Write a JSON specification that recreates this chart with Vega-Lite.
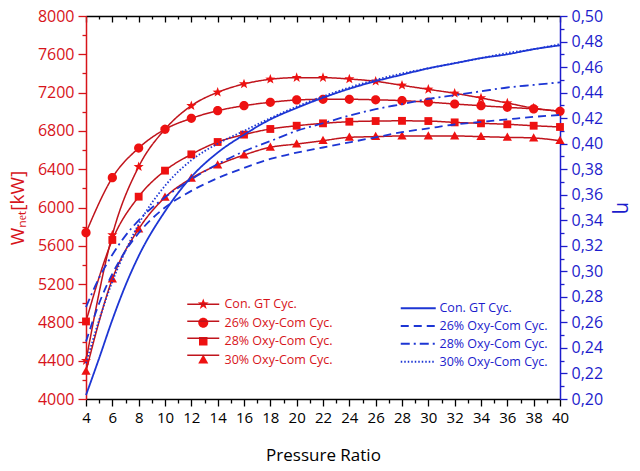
{
  "$schema": "https://vega.github.io/schema/vega-lite/v6.json",
  "width": 474,
  "height": 383,
  "autosize": "none",
  "padding": {"left": 86, "top": 16, "right": 80, "bottom": 72},
  "background": "white",
  "config": {
    "font": "Open Sans",
    "view": {"stroke": null},
    "axis": {"grid": false, "labelFont": "Open Sans", "titleFont": "Open Sans", "labelFontSize": 16, "titleFontWeight": "normal", "labelOverlap": false, "labelFlush": false, "domainWidth": 1.5, "tickWidth": 1.3},
    "legend": {"labelFont": "Open Sans", "labelFontSize": 12.5, "padding": 0, "title": null}
  },
  "datasets": {
    "red": [
      {"pr": 4, "w": 4400, "cycle": "Con. GT Cyc."}, {"pr": 6, "w": 5713, "cycle": "Con. GT Cyc."}, {"pr": 8, "w": 6426, "cycle": "Con. GT Cyc."}, {"pr": 10, "w": 6817, "cycle": "Con. GT Cyc."}, {"pr": 12, "w": 7063, "cycle": "Con. GT Cyc."}, {"pr": 14, "w": 7203, "cycle": "Con. GT Cyc."}, {"pr": 16, "w": 7290, "cycle": "Con. GT Cyc."}, {"pr": 18, "w": 7339, "cycle": "Con. GT Cyc."}, {"pr": 20, "w": 7356, "cycle": "Con. GT Cyc."}, {"pr": 22, "w": 7356, "cycle": "Con. GT Cyc."}, {"pr": 24, "w": 7342, "cycle": "Con. GT Cyc."}, {"pr": 26, "w": 7318, "cycle": "Con. GT Cyc."}, {"pr": 28, "w": 7276, "cycle": "Con. GT Cyc."}, {"pr": 30, "w": 7234, "cycle": "Con. GT Cyc."}, {"pr": 32, "w": 7193, "cycle": "Con. GT Cyc."}, {"pr": 34, "w": 7144, "cycle": "Con. GT Cyc."}, {"pr": 36, "w": 7091, "cycle": "Con. GT Cyc."}, {"pr": 38, "w": 7038, "cycle": "Con. GT Cyc."}, {"pr": 40, "w": 7005, "cycle": "Con. GT Cyc."},
      {"pr": 4, "w": 5737, "cycle": "26% Oxy-Com Cyc."}, {"pr": 6, "w": 6311, "cycle": "26% Oxy-Com Cyc."}, {"pr": 8, "w": 6621, "cycle": "26% Oxy-Com Cyc."}, {"pr": 10, "w": 6817, "cycle": "26% Oxy-Com Cyc."}, {"pr": 12, "w": 6931, "cycle": "26% Oxy-Com Cyc."}, {"pr": 14, "w": 7011, "cycle": "26% Oxy-Com Cyc."}, {"pr": 16, "w": 7063, "cycle": "26% Oxy-Com Cyc."}, {"pr": 18, "w": 7099, "cycle": "26% Oxy-Com Cyc."}, {"pr": 20, "w": 7123, "cycle": "26% Oxy-Com Cyc."}, {"pr": 22, "w": 7130, "cycle": "26% Oxy-Com Cyc."}, {"pr": 24, "w": 7130, "cycle": "26% Oxy-Com Cyc."}, {"pr": 26, "w": 7125, "cycle": "26% Oxy-Com Cyc."}, {"pr": 28, "w": 7116, "cycle": "26% Oxy-Com Cyc."}, {"pr": 30, "w": 7100, "cycle": "26% Oxy-Com Cyc."}, {"pr": 32, "w": 7081, "cycle": "26% Oxy-Com Cyc."}, {"pr": 34, "w": 7063, "cycle": "26% Oxy-Com Cyc."}, {"pr": 36, "w": 7046, "cycle": "26% Oxy-Com Cyc."}, {"pr": 38, "w": 7030, "cycle": "26% Oxy-Com Cyc."}, {"pr": 40, "w": 7005, "cycle": "26% Oxy-Com Cyc."},
      {"pr": 4, "w": 4810, "cycle": "28% Oxy-Com Cyc."}, {"pr": 6, "w": 5661, "cycle": "28% Oxy-Com Cyc."}, {"pr": 8, "w": 6113, "cycle": "28% Oxy-Com Cyc."}, {"pr": 10, "w": 6385, "cycle": "28% Oxy-Com Cyc."}, {"pr": 12, "w": 6555, "cycle": "28% Oxy-Com Cyc."}, {"pr": 14, "w": 6684, "cycle": "28% Oxy-Com Cyc."}, {"pr": 16, "w": 6761, "cycle": "28% Oxy-Com Cyc."}, {"pr": 18, "w": 6820, "cycle": "28% Oxy-Com Cyc."}, {"pr": 20, "w": 6854, "cycle": "28% Oxy-Com Cyc."}, {"pr": 22, "w": 6879, "cycle": "28% Oxy-Com Cyc."}, {"pr": 24, "w": 6896, "cycle": "28% Oxy-Com Cyc."}, {"pr": 26, "w": 6903, "cycle": "28% Oxy-Com Cyc."}, {"pr": 28, "w": 6905, "cycle": "28% Oxy-Com Cyc."}, {"pr": 30, "w": 6903, "cycle": "28% Oxy-Com Cyc."}, {"pr": 32, "w": 6889, "cycle": "28% Oxy-Com Cyc."}, {"pr": 34, "w": 6879, "cycle": "28% Oxy-Com Cyc."}, {"pr": 36, "w": 6869, "cycle": "28% Oxy-Com Cyc."}, {"pr": 38, "w": 6854, "cycle": "28% Oxy-Com Cyc."}, {"pr": 40, "w": 6841, "cycle": "28% Oxy-Com Cyc."},
      {"pr": 4, "w": 4290, "cycle": "30% Oxy-Com Cyc."}, {"pr": 6, "w": 5253, "cycle": "30% Oxy-Com Cyc."}, {"pr": 8, "w": 5775, "cycle": "30% Oxy-Com Cyc."}, {"pr": 10, "w": 6106, "cycle": "30% Oxy-Com Cyc."}, {"pr": 12, "w": 6305, "cycle": "30% Oxy-Com Cyc."}, {"pr": 14, "w": 6444, "cycle": "30% Oxy-Com Cyc."}, {"pr": 16, "w": 6548, "cycle": "30% Oxy-Com Cyc."}, {"pr": 18, "w": 6629, "cycle": "30% Oxy-Com Cyc."}, {"pr": 20, "w": 6663, "cycle": "30% Oxy-Com Cyc."}, {"pr": 22, "w": 6698, "cycle": "30% Oxy-Com Cyc."}, {"pr": 24, "w": 6733, "cycle": "30% Oxy-Com Cyc."}, {"pr": 26, "w": 6740, "cycle": "30% Oxy-Com Cyc."}, {"pr": 28, "w": 6747, "cycle": "30% Oxy-Com Cyc."}, {"pr": 30, "w": 6747, "cycle": "30% Oxy-Com Cyc."}, {"pr": 32, "w": 6747, "cycle": "30% Oxy-Com Cyc."}, {"pr": 34, "w": 6740, "cycle": "30% Oxy-Com Cyc."}, {"pr": 36, "w": 6733, "cycle": "30% Oxy-Com Cyc."}, {"pr": 38, "w": 6726, "cycle": "30% Oxy-Com Cyc."}, {"pr": 40, "w": 6698, "cycle": "30% Oxy-Com Cyc."}
    ],
    "blue": [
      {"pr": 4, "eta": 0.203, "series": "Con. GT Cyc."}, {"pr": 5, "eta": 0.232, "series": "Con. GT Cyc."}, {"pr": 6, "eta": 0.262, "series": "Con. GT Cyc."}, {"pr": 7, "eta": 0.289, "series": "Con. GT Cyc."}, {"pr": 8, "eta": 0.312, "series": "Con. GT Cyc."}, {"pr": 10, "eta": 0.347, "series": "Con. GT Cyc."}, {"pr": 12, "eta": 0.374, "series": "Con. GT Cyc."}, {"pr": 14, "eta": 0.393, "series": "Con. GT Cyc."}, {"pr": 16, "eta": 0.407, "series": "Con. GT Cyc."}, {"pr": 18, "eta": 0.419, "series": "Con. GT Cyc."}, {"pr": 20, "eta": 0.428, "series": "Con. GT Cyc."}, {"pr": 22, "eta": 0.436, "series": "Con. GT Cyc."}, {"pr": 24, "eta": 0.443, "series": "Con. GT Cyc."}, {"pr": 26, "eta": 0.449, "series": "Con. GT Cyc."}, {"pr": 28, "eta": 0.454, "series": "Con. GT Cyc."}, {"pr": 30, "eta": 0.459, "series": "Con. GT Cyc."}, {"pr": 32, "eta": 0.463, "series": "Con. GT Cyc."}, {"pr": 34, "eta": 0.467, "series": "Con. GT Cyc."}, {"pr": 36, "eta": 0.470, "series": "Con. GT Cyc."}, {"pr": 38, "eta": 0.474, "series": "Con. GT Cyc."}, {"pr": 40, "eta": 0.477, "series": "Con. GT Cyc."},
      {"pr": 4, "eta": 0.245, "series": "26% Oxy-Com Cyc."}, {"pr": 5, "eta": 0.275, "series": "26% Oxy-Com Cyc."}, {"pr": 6, "eta": 0.298, "series": "26% Oxy-Com Cyc."}, {"pr": 7, "eta": 0.316, "series": "26% Oxy-Com Cyc."}, {"pr": 8, "eta": 0.330, "series": "26% Oxy-Com Cyc."}, {"pr": 10, "eta": 0.350, "series": "26% Oxy-Com Cyc."}, {"pr": 12, "eta": 0.363, "series": "26% Oxy-Com Cyc."}, {"pr": 14, "eta": 0.373, "series": "26% Oxy-Com Cyc."}, {"pr": 16, "eta": 0.381, "series": "26% Oxy-Com Cyc."}, {"pr": 18, "eta": 0.388, "series": "26% Oxy-Com Cyc."}, {"pr": 20, "eta": 0.393, "series": "26% Oxy-Com Cyc."}, {"pr": 22, "eta": 0.397, "series": "26% Oxy-Com Cyc."}, {"pr": 24, "eta": 0.401, "series": "26% Oxy-Com Cyc."}, {"pr": 26, "eta": 0.405, "series": "26% Oxy-Com Cyc."}, {"pr": 28, "eta": 0.409, "series": "26% Oxy-Com Cyc."}, {"pr": 30, "eta": 0.412, "series": "26% Oxy-Com Cyc."}, {"pr": 32, "eta": 0.415, "series": "26% Oxy-Com Cyc."}, {"pr": 34, "eta": 0.417, "series": "26% Oxy-Com Cyc."}, {"pr": 36, "eta": 0.419, "series": "26% Oxy-Com Cyc."}, {"pr": 38, "eta": 0.421, "series": "26% Oxy-Com Cyc."}, {"pr": 40, "eta": 0.4225, "series": "26% Oxy-Com Cyc."},
      {"pr": 4, "eta": 0.272, "series": "28% Oxy-Com Cyc."}, {"pr": 5, "eta": 0.295, "series": "28% Oxy-Com Cyc."}, {"pr": 6, "eta": 0.313, "series": "28% Oxy-Com Cyc."}, {"pr": 7, "eta": 0.328, "series": "28% Oxy-Com Cyc."}, {"pr": 8, "eta": 0.340, "series": "28% Oxy-Com Cyc."}, {"pr": 10, "eta": 0.358, "series": "28% Oxy-Com Cyc."}, {"pr": 12, "eta": 0.372, "series": "28% Oxy-Com Cyc."}, {"pr": 14, "eta": 0.384, "series": "28% Oxy-Com Cyc."}, {"pr": 16, "eta": 0.394, "series": "28% Oxy-Com Cyc."}, {"pr": 18, "eta": 0.402, "series": "28% Oxy-Com Cyc."}, {"pr": 20, "eta": 0.410, "series": "28% Oxy-Com Cyc."}, {"pr": 22, "eta": 0.416, "series": "28% Oxy-Com Cyc."}, {"pr": 24, "eta": 0.422, "series": "28% Oxy-Com Cyc."}, {"pr": 26, "eta": 0.427, "series": "28% Oxy-Com Cyc."}, {"pr": 28, "eta": 0.431, "series": "28% Oxy-Com Cyc."}, {"pr": 30, "eta": 0.435, "series": "28% Oxy-Com Cyc."}, {"pr": 32, "eta": 0.438, "series": "28% Oxy-Com Cyc."}, {"pr": 34, "eta": 0.441, "series": "28% Oxy-Com Cyc."}, {"pr": 36, "eta": 0.444, "series": "28% Oxy-Com Cyc."}, {"pr": 38, "eta": 0.446, "series": "28% Oxy-Com Cyc."}, {"pr": 40, "eta": 0.448, "series": "28% Oxy-Com Cyc."},
      {"pr": 4, "eta": 0.228, "series": "30% Oxy-Com Cyc."}, {"pr": 5, "eta": 0.262, "series": "30% Oxy-Com Cyc."}, {"pr": 6, "eta": 0.292, "series": "30% Oxy-Com Cyc."}, {"pr": 7, "eta": 0.316, "series": "30% Oxy-Com Cyc."}, {"pr": 8, "eta": 0.337, "series": "30% Oxy-Com Cyc."}, {"pr": 10, "eta": 0.367, "series": "30% Oxy-Com Cyc."}, {"pr": 12, "eta": 0.387, "series": "30% Oxy-Com Cyc."}, {"pr": 14, "eta": 0.400, "series": "30% Oxy-Com Cyc."}, {"pr": 16, "eta": 0.410, "series": "30% Oxy-Com Cyc."}, {"pr": 18, "eta": 0.420, "series": "30% Oxy-Com Cyc."}, {"pr": 20, "eta": 0.429, "series": "30% Oxy-Com Cyc."}, {"pr": 22, "eta": 0.437, "series": "30% Oxy-Com Cyc."}, {"pr": 24, "eta": 0.444, "series": "30% Oxy-Com Cyc."}, {"pr": 26, "eta": 0.450, "series": "30% Oxy-Com Cyc."}, {"pr": 28, "eta": 0.455, "series": "30% Oxy-Com Cyc."}, {"pr": 30, "eta": 0.459, "series": "30% Oxy-Com Cyc."}, {"pr": 32, "eta": 0.463, "series": "30% Oxy-Com Cyc."}, {"pr": 34, "eta": 0.467, "series": "30% Oxy-Com Cyc."}, {"pr": 36, "eta": 0.471, "series": "30% Oxy-Com Cyc."}, {"pr": 38, "eta": 0.474, "series": "30% Oxy-Com Cyc."}, {"pr": 40, "eta": 0.478, "series": "30% Oxy-Com Cyc."}
    ]
  },
  "layer": [
    {
      "data": {"name": "red"},
      "encoding": {
        "x": {
          "field": "pr", "type": "quantitative",
          "scale": {"domain": [4, 40], "nice": false, "zero": false},
          "axis": {
            "orient": "bottom",
            "values": [4,5,6,7,8,9,10,11,12,13,14,15,16,17,18,19,20,21,22,23,24,25,26,27,28,29,30,31,32,33,34,35,36,37,38,39,40],
            "labelExpr": "datum.value % 2 === 0 ? datum.label : ''",
            "tickSize": {"condition": {"test": "datum.value % 2 === 0", "value": 7}, "value": 4},
            "domainColor": "black", "tickColor": "black", "labelColor": "black", "labelFontSize": 15,
            "title": "Pressure Ratio", "titleFontSize": 17, "titleColor": "black", "titlePadding": 22, "labelPadding": 4
          }
        },
        "y": {
          "field": "w", "type": "quantitative",
          "scale": {"domain": [4000, 8000], "nice": false, "zero": false},
          "axis": {
            "orient": "left",
            "values": [4000,4200,4400,4600,4800,5000,5200,5400,5600,5800,6000,6200,6400,6600,6800,7000,7200,7400,7600,7800,8000],
            "format": "d",
            "labelExpr": "datum.value % 400 === 0 ? datum.label : ''",
            "tickSize": {"condition": {"test": "datum.value % 400 === 0", "value": 8}, "value": 4},
            "domainColor": "#d7141a", "tickColor": "#d7141a", "labelColor": "#d7141a",
            "title": "Wₙₑₜ[kW]", "titleColor": "#d7141a", "titleFontSize": 19, "titlePadding": 10, "labelPadding": 4
          }
        }
      },
      "layer": [
        {
          "mark": {"type": "line", "interpolate": "monotone", "color": "#c0141c", "strokeWidth": 1.5},
          "encoding": {
            "strokeDash": {
              "field": "cycle", "type": "nominal", "sort": null,
              "scale": {"range": [[1, 0], [1, 0], [1, 0], [1, 0]]},
              "legend": {
                "orient": "none", "legendX": 111, "legendY": 282,
                "symbolType": "M-3.2,0H3.2", "symbolSize": 100, "symbolStrokeWidth": 1.5, "symbolStrokeColor": "#c0141c",
                "labelColor": "#d7141a", "labelOpacity": 0, "labelExpr": "''", "labelOffset": 15, "rowPadding": 4
              }
            }
          }
        },
        {
          "mark": {"type": "point", "filled": true, "opacity": 1, "color": "#ee1111", "size": 85},
          "encoding": {
            "shape": {
              "field": "cycle", "type": "nominal",
              "scale": {
                "domain": ["Con. GT Cyc.", "26% Oxy-Com Cyc.", "28% Oxy-Com Cyc.", "30% Oxy-Com Cyc."],
                "range": [
                  "M0,-1.15L0.276,-0.38L1.094,-0.355L0.447,0.145L0.676,0.93L0,0.47L-0.676,0.93L-0.447,0.145L-1.094,-0.355L-0.276,-0.38Z",
                  "M1,0A1,1,0,1,1,-1,0A1,1,0,1,1,1,0Z",
                  "M-0.85,-0.85H0.85V0.85H-0.85Z",
                  "M0,-1.05L1,0.75H-1Z"
                ]
              },
              "legend": {
                "orient": "none", "legendX": 111, "legendY": 282,
                "symbolSize": 100, "labelColor": "#d7141a", "labelOffset": 15, "rowPadding": 2.5
              }
            }
          }
        }
      ]
    },
    {
      "data": {"name": "blue"},
      "mark": {"type": "line", "interpolate": "monotone", "color": "#1d36d4", "strokeWidth": 1.8},
      "encoding": {
        "x": {
          "field": "pr", "type": "quantitative",
          "scale": {"domain": [4, 40], "nice": false, "zero": false},
          "axis": {
            "orient": "top", "labels": false, "title": null,
            "values": [4,5,6,7,8,9,10,11,12,13,14,15,16,17,18,19,20,21,22,23,24,25,26,27,28,29,30,31,32,33,34,35,36,37,38,39,40],
            "tickSize": {"condition": {"test": "datum.value % 2 === 0", "value": -6}, "value": -3},
            "domainColor": "black", "tickColor": "black"
          }
        },
        "y": {
          "field": "eta", "type": "quantitative",
          "scale": {"domain": [0.2, 0.5], "nice": false, "zero": false},
          "axis": {
            "orient": "right",
            "values": [0.2,0.21,0.22,0.23,0.24,0.25,0.26,0.27,0.28,0.29,0.3,0.31,0.32,0.33,0.34,0.35,0.36,0.37,0.38,0.39,0.4,0.41,0.42,0.43,0.44,0.45,0.46,0.47,0.48,0.49,0.5],
            "labelExpr": "round(datum.value * 100) % 2 === 0 ? replace(format(datum.value, '.2f'), '.', ',') : ''",
            "tickSize": {"condition": {"test": "round(datum.value * 100) % 2 === 0", "value": 7}, "value": 4},
            "domainColor": "#1c1ccc", "tickColor": "#1c1ccc", "labelColor": "#1c1ccc",
            "title": "η", "titleColor": "#1c1ccc", "titleFontSize": 20, "titlePadding": 10, "labelPadding": 4
          }
        },
        "strokeDash": {
          "field": "series", "type": "nominal", "sort": null,
          "scale": {"range": [[1, 0], [8, 5], [9, 4, 2, 4], [1.5, 2]]},
          "legend": {
            "orient": "none", "legendX": 326, "legendY": 286,
            "symbolType": "M-3.5,0H3.5", "symbolSize": 100, "symbolStrokeWidth": 2, "symbolStrokeColor": "#1d36d4",
            "labelColor": "#1c1ccc", "labelOffset": 15, "rowPadding": 4.8
          }
        }
      }
    }
  ],
  "resolve": {"scale": {"y": "independent", "strokeDash": "independent"}, "axis": {"x": "independent"}}
}
